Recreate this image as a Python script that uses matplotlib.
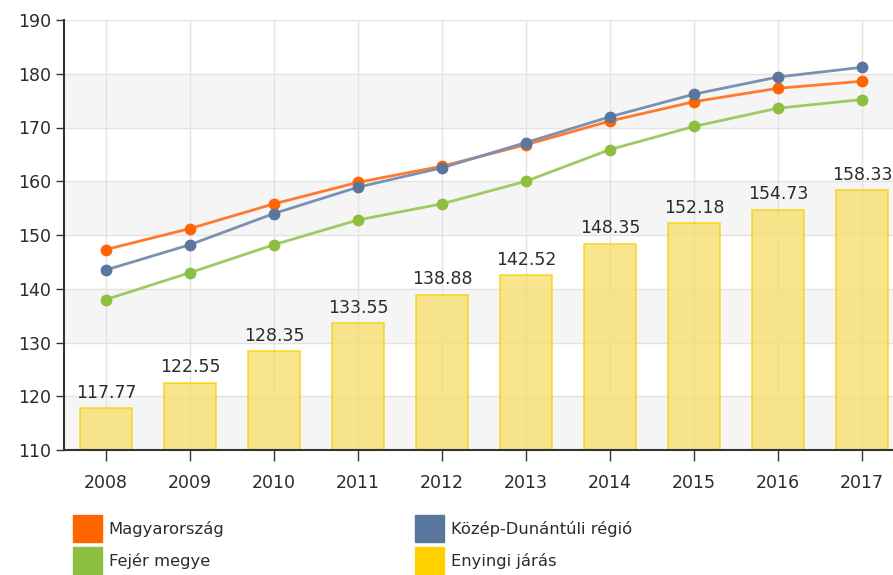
import numpy as np
import matplotlib.pyplot as plt
from matplotlib.patches import Patch

# Data
years = ['2008', '2009', '2010', '2011', '2012', '2013', '2014', '2015', '2016', '2017']
magyarorszag = [147.3, 151.2, 155.8, 159.8, 162.8, 166.8, 171.2, 174.8, 177.3, 178.6]
kozep_dunantul = [143.5, 148.2, 154.0, 158.9, 162.5, 167.2, 172.0, 176.2, 179.4, 181.2]
fejer = [138.0, 143.0, 148.2, 152.8, 155.8, 160.0, 165.9, 170.2, 173.6, 175.2]
enying = [117.77, 122.55, 128.35, 133.55, 138.88, 142.52, 148.35, 152.18, 154.73, 158.33]

y_ticks = np.arange(110, 191, 10)

fig = plt.figure(figsize=(8.93, 5.75), dpi=100)
ax = fig.add_axes([64 / 893, 1 - 450 / 575, 840 / 893, 430 / 575])
x = np.arange(len(years))

# alternating background bands
for lo in range(110, 190, 20):
    ax.axhspan(lo, lo + 10, color='#f5f5f5', zorder=0, lw=0)
ax.set_axisbelow(True)
ax.grid(True, color='#e3e3e3', lw=1)

bars = ax.bar(x, enying, width=0.61, bottom=0, color='#f8de66', alpha=0.75,
              edgecolor='#f3d000', lw=1.2, zorder=2)
for xi, v in zip(x, enying):
    ax.text(xi, v + 1.2, f'{v:.2f}', ha='center', va='bottom',
            fontsize=12.5, color='#2b2b2b', zorder=5)

ax.plot(x, fejer, color='#9dcb62', lw=2, marker='o', ms=8.5,
        mfc='#8cbf3f', mec='none', zorder=3)
ax.plot(x, magyarorszag, color='#ff7a2a', lw=2, marker='o', ms=8.5,
        mfc='#ff6600', mec='none', zorder=3)
ax.plot(x, kozep_dunantul, color='#7a91b3', lw=2, marker='o', ms=8.5,
        mfc='#58769e', mec='none', zorder=4)

ax.set_xlim(-0.5, len(years) - 0.5)
ax.set_ylim(110, 190)
ax.set_yticks(y_ticks)
ax.set_xticks(x)
ax.set_xticklabels(years, fontsize=12.5, color='#2b2b2b')
ax.tick_params(axis='x', length=8, width=1, color='#333333', pad=9)
ax.tick_params(axis='y', length=6, width=1, color='#333333', labelsize=12.5,
               labelcolor='#2b2b2b')
for s in ['top', 'right']:
    ax.spines[s].set_visible(False)
for s in ['left', 'bottom']:
    ax.spines[s].set_color('#333333')
    ax.spines[s].set_linewidth(1.5)

handles = [Patch(color='#ff6600', label='Magyarország'),
           Patch(color='#8cbf3f', label='Fejér megye'),
           Patch(color='#58769e', label='Közép-Dunántúli régió'),
           Patch(color='#ffd200', label='Enyingi járás')]
fig.legend(handles=handles, ncol=2, loc='upper left',
           bbox_to_anchor=(58 / 893, 1 - 500 / 575), frameon=False,
           fontsize=11.8, handlelength=1.77, handleheight=2.2, handletextpad=0.43,
           columnspacing=11.6, labelspacing=0.3, labelcolor='#2b2b2b')

fig.savefig('out.png', dpi=100)
